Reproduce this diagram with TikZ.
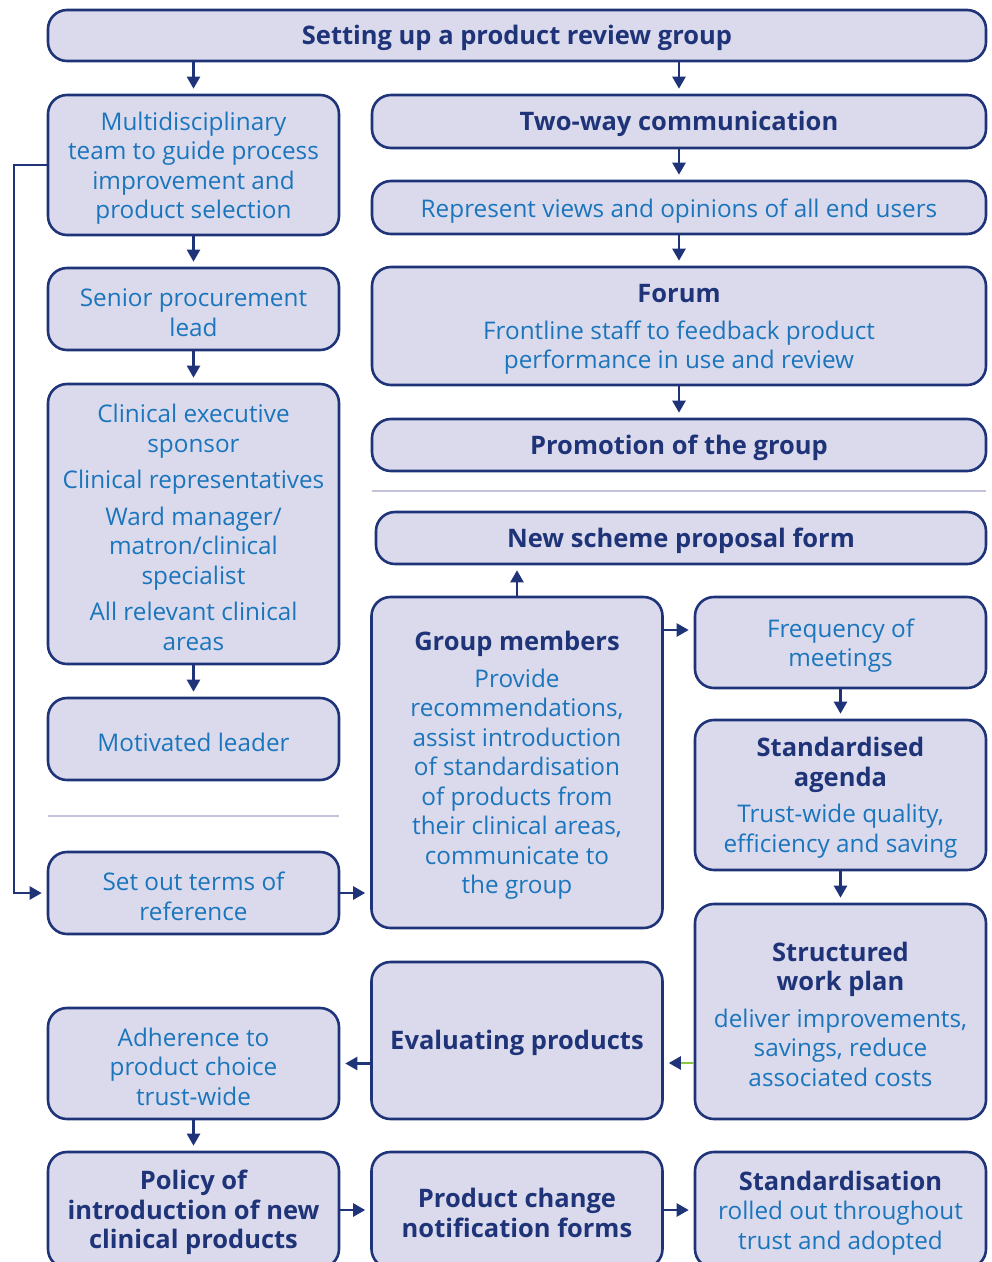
\documentclass[tikz,border=0pt]{standalone}
\usepackage{fontspec}
\setmainfont{Open Sans}
\usetikzlibrary{positioning,calc,arrows.meta}
\definecolor{navy}{RGB}{31,52,120}
\definecolor{lav}{RGB}{218,218,236}
\definecolor{txtblue}{RGB}{27,117,188}
\definecolor{rulegray}{RGB}{194,194,218}
\definecolor{leafgreen}{RGB}{141,198,63}
\newcommand{\hd}[1]{{\fontsize{25.5}{29.5}\selectfont\bfseries\color{navy}#1}}
\newcommand{\st}{\rule{0pt}{25pt}}

\begin{document}
\begin{tikzpicture}[x=1pt, y=-1pt,
  box/.style={draw=navy, line width=2.6pt, fill=lav, rounded corners=19pt,
    text=txtblue, align=center, inner sep=0pt,
    font=\fontsize{24.3}{29.5}\selectfont},
  wide/.style={box, minimum width=614pt},
  narrow/.style={box, minimum width=291pt},
  arr/.style={draw=navy, line width=2.4pt, shorten >=5pt,
    -{Triangle[length=12pt,width=13pt]}},
  garr/.style={draw=leafgreen, line width=2.4pt, shorten >=5pt,
    -{Triangle[length=12pt,width=13pt,color=navy]}},
  sep/.style={draw=rulegray, line width=2.4pt}]
  \useasboundingbox (0,0) rectangle (992,1262);

  % Nodes -- right column
  \node [box, minimum width=938pt, minimum height=51pt] (top) at (517,35.5) {\st\hd{Setting up a product review group}};
  \node [wide, minimum height=53pt] (twoway) at (679,121.5) {\st\hd{Two-way communication}};
  \node [wide, minimum height=53pt] (views) at (679,207.5) {\st Represent views and opinions of all end users};
  \node [wide, minimum height=118pt] (forum) at (679,326) {\st\hd{Forum}\\[7pt]Frontline staff to feedback product\\performance in use and review};
  \node [wide, minimum height=52pt] (promo) at (679,445) {\st\hd{Promotion of the group}};
  \node [box, minimum width=610pt, minimum height=52pt] (scheme) at (681,538) {\st\hd{New scheme proposal form}};
  \node [narrow, minimum height=331pt] (group) at (517,762.5) {\st\hd{Group members}\\[7pt]Provide\\recommendations,\\assist introduction\\of standardisation\\of products from\\their clinical areas,\\communicate to\\the group};
  \node [narrow, minimum height=91pt] (freq) at (840.5,642.5) {\st Frequency of\\meetings};
  \node [narrow, minimum height=150pt] (agenda) at (840.5,795) {\st\hd{Standardised}\\\hd{agenda}\\[7pt]Trust-wide quality,\\efficiency and saving};
  \node [narrow, minimum height=215pt] (plan) at (840.5,1011.5) {\st\hd{Structured}\\\hd{work plan}\\[7pt]deliver improvements,\\savings, reduce\\associated costs};
  \node [narrow, minimum height=157pt] (eval) at (517,1040.5) {\st\hd{Evaluating products}};

  % Nodes -- left column
  \node [narrow, minimum height=140pt] (multi) at (193.5,165) {\st Multidisciplinary\\team to guide process\\improvement and\\product selection};
  \node [narrow, minimum height=82pt] (senior) at (193.5,309) {\st Senior procurement\\lead};
  \node [narrow, minimum height=280pt] (clin) at (193.5,524) {\st Clinical executive\\sponsor\\[7pt]Clinical representatives\\[7pt]Ward manager/\\matron/clinical\\specialist\\[7pt]All relevant clinical\\areas};
  \node [narrow, minimum height=82pt] (motiv) at (193.5,739) {\st Motivated leader};
  \node [narrow, minimum height=82pt] (terms) at (193.5,893) {\st Set out terms of\\reference};
  \node [narrow, minimum height=111pt] (adhere) at (193.5,1063.5) {\st Adherence to\\product choice\\trust-wide};

  % Nodes -- bottom row
  \node [narrow, minimum height=116pt] (policy) at (193.5,1210) {\st\hd{Policy of}\\\hd{introduction of new}\\\hd{clinical products}};
  \node [narrow, minimum height=116pt] (change) at (517,1210) {\st\hd{Product change}\\\hd{notification forms}};
  \node [narrow, minimum height=116pt] (stdz) at (840.5,1210) {\st\hd{Standardisation}\\rolled out throughout\\trust and adopted};

  % Separators
  \draw [sep] (372,491) -- (986,491);
  \draw [sep] (48,816) -- (339,816);

  % Arrows
  \draw [arr] (top.south -| multi) -- (multi.north);
  \draw [arr] (top.south -| twoway) -- (twoway.north);
  \foreach \a/\b in {twoway/views, views/forum, forum/promo,
                     multi/senior, senior/clin, clin/motiv,
                     freq/agenda, agenda/plan, adhere/policy}
    \draw [arr] (\a.south) -- (\b.north);
  \draw [arr] (group.north) -- (group.north |- scheme.south);
  \coordinate (fy) at (0,630);
  \draw [arr] (group.east |- fy) -- (freq.west |- fy);
  \draw [arr] (terms.east) -- (terms.east -| group.west);
  \draw [arr] (multi.west) -- ++(-33,0) |- (terms.west);
  \coordinate (gy) at (0,1063);
  \draw [garr] (plan.west |- gy) -- (eval.east |- gy);
  \draw [arr] (eval.west |- adhere) -- (adhere.east);
  \draw [arr] (policy.east) -- (change.west);
  \draw [arr] (change.east) -- (stdz.west);
\end{tikzpicture}
\end{document}
